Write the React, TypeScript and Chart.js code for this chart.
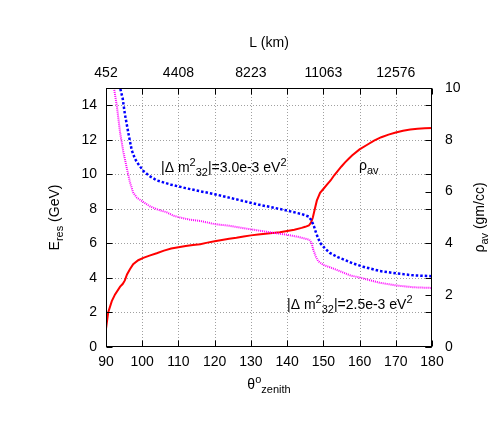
import { useEffect, useRef } from 'react';
import { Chart, registerables } from 'chart.js';

Chart.register(...registerables);

const FONT = '"Liberation Sans", Arial, sans-serif';

const bottomTicks = [90, 100, 110, 120, 130, 140, 150, 160, 170, 180];
const leftTicks = [0, 2, 4, 6, 8, 10, 12, 14];
const rightTicks = [0, 2, 4, 6, 8, 10];
const topTickAngles = [90, 110, 130, 150, 170];
const topTickLabels = ['452', '4408', '8223', '11063', '12576'];

// average density (right axis, gm/cc)
const redTheta = [90, 90.6, 91.6, 92.5, 93.9, 94.6, 95.2, 95.8, 96.6, 97.5, 98.9, 100.3, 102, 104, 106, 108, 110, 112, 114, 116, 118, 120, 122, 124, 126, 128, 130, 132, 134, 136, 138, 140, 142, 144, 145, 146, 146.6, 147.1, 147.6, 148.2, 149.1, 150, 151, 152, 153, 154, 155, 156, 157, 158, 160, 162, 164, 166, 168, 170, 172, 174, 176, 178, 180];
const redRho = [0.7, 1.33, 1.77, 2.03, 2.33, 2.43, 2.57, 2.8, 3.0, 3.2, 3.35, 3.44, 3.53, 3.62, 3.72, 3.8, 3.85, 3.9, 3.94, 3.97, 4.03, 4.08, 4.13, 4.18, 4.22, 4.27, 4.31, 4.34, 4.37, 4.4, 4.43, 4.48, 4.53, 4.6, 4.64, 4.69, 4.8, 5.0, 5.3, 5.65, 5.95, 6.1, 6.27, 6.43, 6.63, 6.8, 6.97, 7.13, 7.27, 7.4, 7.63, 7.8, 7.97, 8.1, 8.2, 8.28, 8.35, 8.4, 8.43, 8.45, 8.46];

// E_res for |dm2_32| = 3.0e-3 eV^2 (left axis, GeV)
const blueTheta = [93.0, 93.9, 94.6, 95.2, 96.2, 97.1, 98.0, 98.9, 100.3, 102, 104, 108, 112, 116, 120, 124, 128, 132, 136, 140, 144, 146, 146.8, 147.4, 148, 149.1, 150.5, 151.8, 154, 156.4, 158, 161, 165.6, 170.3, 174.8, 180];
const blueE = [16.5, 15.0, 14.4, 13.5, 12.36, 11.4, 10.9, 10.6, 10.2, 9.9, 9.65, 9.4, 9.2, 9.02, 8.85, 8.65, 8.45, 8.25, 8.08, 7.9, 7.7, 7.55, 7.3, 7.0, 6.6, 6.03, 5.7, 5.45, 5.2, 5.0, 4.85, 4.65, 4.4, 4.26, 4.15, 4.1];

// E_res for |dm2_32| = 2.5e-3 eV^2 (left axis, GeV)
const magTheta = [91.5, 92.2, 93.0, 93.9, 94.8, 95.7, 96.6, 97.5, 98.5, 100.3, 102.1, 104.4, 106.8, 108.6, 110.4, 113, 116, 120, 124, 128, 132, 136, 140, 143, 146.1, 146.8, 147.2, 148, 148.6, 150, 151.8, 154.6, 157.4, 161, 165.6, 170.3, 174.8, 180];
const magE = [16.5, 15.0, 13.95, 12.4, 11.3, 10.4, 9.55, 8.95, 8.65, 8.4, 8.15, 7.95, 7.8, 7.6, 7.5, 7.38, 7.3, 7.12, 7.02, 6.88, 6.75, 6.62, 6.5, 6.38, 6.22, 6.0, 5.65, 5.2, 4.97, 4.75, 4.62, 4.39, 4.15, 3.97, 3.72, 3.56, 3.46, 3.42];

type Seg = { t: string; s: number; dy: number };

function segWidth(ctx: CanvasRenderingContext2D, segs: Seg[]) {
  let w = 0;
  for (const g of segs) {
    ctx.font = `${g.s}px ${FONT}`;
    w += ctx.measureText(g.t).width;
  }
  return w;
}

function drawRich(ctx: CanvasRenderingContext2D, segs: Seg[], x: number, y: number, align: 'left' | 'center') {
  const w = segWidth(ctx, segs);
  let cx = align === 'center' ? x - w / 2 : x;
  ctx.textAlign = 'left';
  ctx.textBaseline = 'alphabetic';
  ctx.fillStyle = '#000';
  for (const g of segs) {
    ctx.font = `${g.s}px ${FONT}`;
    ctx.fillText(g.t, cx, y + g.dy);
    cx += ctx.measureText(g.t).width;
  }
}

const decorPlugin = {
  id: 'decor',
  beforeDatasetsDraw(chart: any) {
    const { ctx, chartArea: a, scales } = chart;
    ctx.save();
    ctx.strokeStyle = '#a0a0a0';
    ctx.lineWidth = 1;
    ctx.setLineDash([1, 2]);
    for (const v of bottomTicks) {
      if (v === 90 || v === 180) continue;
      const x = Math.round(scales.x.getPixelForValue(v)) + 0.5;
      ctx.beginPath();
      ctx.moveTo(x, a.top);
      ctx.lineTo(x, a.bottom);
      ctx.stroke();
    }
    for (const v of leftTicks) {
      if (v === 0) continue;
      const y = Math.round(scales.y.getPixelForValue(v)) + 0.5;
      ctx.beginPath();
      ctx.moveTo(a.left, y);
      ctx.lineTo(a.right, y);
      ctx.stroke();
    }
    ctx.restore();
  },
  afterDatasetsDraw(chart: any) {
    const { ctx, chartArea: a, scales } = chart;
    ctx.save();
    ctx.setLineDash([]);
    ctx.strokeStyle = '#000';
    ctx.lineWidth = 1;
    const L = Math.round(a.left) + 0.5, R = Math.round(a.right) - 0.5;
    const T = Math.round(a.top) + 0.5, B = Math.round(a.bottom) - 0.5;
    ctx.strokeRect(L, T, R - L, B - T);
    const tl = 6;
    ctx.beginPath();
    for (const v of bottomTicks) {
      const x = Math.round(scales.x.getPixelForValue(v)) + 0.5;
      ctx.moveTo(x, B); ctx.lineTo(x, B - tl);
      ctx.moveTo(x, T); ctx.lineTo(x, T + tl);
    }
    for (const v of leftTicks) {
      const y = Math.round(scales.y.getPixelForValue(v)) + 0.5;
      ctx.moveTo(L, y); ctx.lineTo(L + tl, y);
      ctx.moveTo(R, y); ctx.lineTo(R - tl, y);
    }
    for (const v of rightTicks) {
      const y = Math.round(scales.y2.getPixelForValue(v)) + 0.5;
      ctx.moveTo(R, y); ctx.lineTo(R - tl, y);
    }
    ctx.stroke();

    // axis titles
    drawRich(ctx, [{ t: 'L (km)', s: 14, dy: 0 }], (a.left + a.right) / 2, 47, 'center');
    drawRich(ctx, [
      { t: 'θ', s: 14, dy: 0 },
      { t: 'o', s: 11, dy: -6 },
      { t: 'zenith', s: 11, dy: 4 },
    ], (a.left + a.right) / 2, 389, 'center');

    ctx.save();
    ctx.translate(59, (a.top + a.bottom) / 2);
    ctx.rotate(-Math.PI / 2);
    drawRich(ctx, [
      { t: 'E', s: 14, dy: 0 },
      { t: 'res', s: 11, dy: 4 },
      { t: ' (GeV)', s: 14, dy: 0 },
    ], 0, 0, 'center');
    ctx.restore();

    ctx.save();
    ctx.translate(484, (a.top + a.bottom) / 2);
    ctx.rotate(-Math.PI / 2);
    drawRich(ctx, [
      { t: 'ρ', s: 14, dy: 0 },
      { t: 'av', s: 11, dy: 4 },
      { t: ' (gm/cc)', s: 14, dy: 0 },
    ], 0, 0, 'center');
    ctx.restore();

    // curve labels
    drawRich(ctx, [
      { t: '|Δ m', s: 14, dy: 0 },
      { t: '2', s: 11, dy: -6 },
      { t: '32', s: 11, dy: 4 },
      { t: '|=3.0e-3 eV', s: 14, dy: 0 },
      { t: '2', s: 11, dy: -6 },
    ], 161, 172, 'left');
    drawRich(ctx, [
      { t: '|Δ m', s: 14, dy: 0 },
      { t: '2', s: 11, dy: -6 },
      { t: '32', s: 11, dy: 4 },
      { t: '|=2.5e-3 eV', s: 14, dy: 0 },
      { t: '2', s: 11, dy: -6 },
    ], 287, 309, 'left');
    drawRich(ctx, [
      { t: 'ρ', s: 14, dy: 0 },
      { t: 'av', s: 11, dy: 4 },
    ], 359, 170, 'left');
    ctx.restore();
  },
};

function pts(xs: number[], ys: number[]) {
  return xs.map((x, i) => ({ x, y: ys[i] }));
}

export default function App() {
  const ref = useRef<HTMLCanvasElement | null>(null);
  useEffect(() => {
    if (!ref.current) return;
    const noGrid = { display: false, drawTicks: false };
    const tickFont = { family: FONT, size: 14 };
    const chart = new Chart(ref.current, {
      type: 'line',
      data: {
        datasets: [
          {
            label: 'blue',
            data: pts(blueTheta, blueE),
            borderColor: '#0000ff',
            borderWidth: 2.5,
            borderDash: [2.5, 2],
            pointRadius: 0,
            xAxisID: 'x',
            yAxisID: 'y',
          },
          {
            label: 'magenta',
            data: pts(magTheta, magE),
            borderColor: '#ff00ff',
            borderWidth: 2,
            borderDash: [1, 1],
            pointRadius: 0,
            xAxisID: 'x',
            yAxisID: 'y',
          },
          {
            label: 'rho',
            data: pts(redTheta, redRho),
            borderColor: '#ff0000',
            borderWidth: 2,
            pointRadius: 0,
            xAxisID: 'x',
            yAxisID: 'y2',
          },
        ],
      },
      options: {
        animation: false,
        responsive: false,
        devicePixelRatio: 1,
        layout: { padding: 0 },
        plugins: { legend: { display: false }, tooltip: { enabled: false } },
        scales: {
          x: {
            type: 'linear',
            position: 'bottom',
            min: 90,
            max: 180,
            grid: noGrid,
            border: { display: false },
            afterBuildTicks: (s: any) => { s.ticks = bottomTicks.map((v) => ({ value: v })); },
            afterFit: (s: any) => { s.height = 89; },
            ticks: { font: tickFont, color: '#000', padding: 7, maxRotation: 0, autoSkip: false },
          },
          x2: {
            type: 'linear',
            axis: 'x',
            position: 'top',
            min: 90,
            max: 180,
            grid: noGrid,
            border: { display: false },
            afterBuildTicks: (s: any) => { s.ticks = topTickAngles.map((v) => ({ value: v })); },
            afterFit: (s: any) => { s.height = 88; },
            ticks: {
              font: tickFont,
              color: '#000',
              padding: 6,
              maxRotation: 0,
              autoSkip: false,
              callback: (v: any) => {
                const i = topTickAngles.indexOf(Number(v));
                return i >= 0 ? topTickLabels[i] : '';
              },
            },
          },
          y: {
            type: 'linear',
            position: 'left',
            min: 0,
            max: 15,
            grid: noGrid,
            border: { display: false },
            afterBuildTicks: (s: any) => { s.ticks = leftTicks.map((v) => ({ value: v })); },
            afterFit: (s: any) => { s.width = 106; },
            ticks: { font: tickFont, color: '#000', padding: 9, autoSkip: false },
          },
          y2: {
            type: 'linear',
            position: 'right',
            min: 0,
            max: 10,
            grid: noGrid,
            border: { display: false },
            afterBuildTicks: (s: any) => { s.ticks = rightTicks.map((v) => ({ value: v })); },
            afterFit: (s: any) => { s.width = 66; },
            ticks: { font: tickFont, color: '#000', padding: 13, autoSkip: false },
          },
        },
      },
      plugins: [decorPlugin],
    } as any);
    return () => chart.destroy();
  }, []);
  return (
    <div style={{ position: 'fixed', left: 0, top: 0, width: 498, height: 436, background: '#fff' }}>
      <canvas ref={ref} width={498} height={436} style={{ display: 'block', width: 498, height: 436 }} />
    </div>
  );
}
